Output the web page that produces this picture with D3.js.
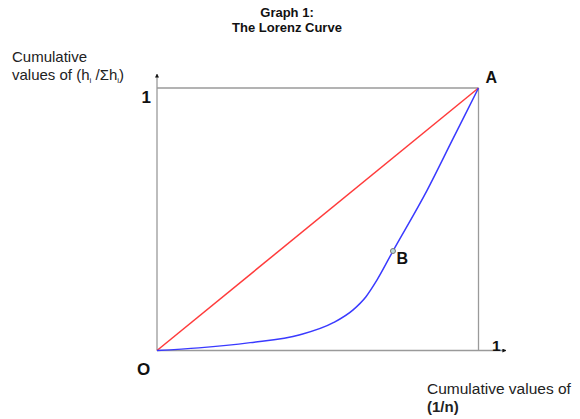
<!DOCTYPE html>
<html>
<head>
<meta charset="utf-8">
<script src="https://cdn.jsdelivr.net/npm/d3@7"></script>
<style>
  html, body { margin: 0; padding: 0; background: #fff; }
  svg { display: block; font-family: "Liberation Sans", Arial, sans-serif; }
</style>
</head>
<body>
<svg id="chart" width="580" height="419"></svg>
<script>
// ---- data ----
const titleLines = ["Graph 1:", "The Lorenz Curve"];
const equalityX = [0, 1];
const equalityY = [0, 1];
const lorenzX = [0, 0.13, 0.29, 0.445, 0.55, 0.61, 0.65, 0.684, 0.734, 0.84, 0.92, 1];
const lorenzY = [0, 0.01, 0.03, 0.06, 0.107, 0.155, 0.205, 0.268, 0.379, 0.61, 0.805, 1];
const pointB = { x: 0.734, y: 0.379 };
const yTickLabels = ["1"];
const xTickLabels = ["1"];

// ---- layout ----
const svg = d3.select("#chart");
const x = d3.scaleLinear().domain([0, 1]).range([157, 478.5]);
const y = d3.scaleLinear().domain([0, 1]).range([350.5, 88]);
const frameColor = "#9a9a9a";

// title
svg.selectAll("text.title").data(titleLines).join("text")
  .attr("class", "title")
  .attr("x", 287).attr("y", (d, i) => 17 + i * 15)
  .attr("text-anchor", "middle")
  .attr("font-size", 13).attr("font-weight", "bold").attr("fill", "#111")
  .text(d => d);

// y axis label
svg.append("text").attr("x", 12).attr("y", 62)
  .attr("font-size", 15).attr("fill", "#222").text("Cumulative");
const yl2 = svg.append("text").attr("x", 12).attr("y", 80)
  .attr("font-size", 15).attr("fill", "#222");
yl2.append("tspan").text("values of (h");
yl2.append("tspan").attr("font-size", 8).attr("dy", 3).text("i");
yl2.append("tspan").attr("dy", -3).text(" /Σh");
yl2.append("tspan").attr("font-size", 8).attr("dy", 3).text("i");
yl2.append("tspan").attr("dy", -3).text(")");

// x axis label
svg.append("text").attr("x", 427).attr("y", 394)
  .attr("font-size", 15.5).attr("fill", "#222").text("Cumulative values of");
svg.append("text").attr("x", 427).attr("y", 411.5)
  .attr("font-size", 15).attr("font-weight", "bold").attr("fill", "#222").text("(1/n)");

// arrow markers
const defs = svg.append("defs");
defs.append("marker").attr("id", "arr")
  .attr("viewBox", "0 0 10 10").attr("refX", 9).attr("refY", 5)
  .attr("markerWidth", 4).attr("markerHeight", 4)
  .attr("markerUnits", "userSpaceOnUse")
  .attr("orient", "auto")
  .append("path").attr("d", "M0,0 L10,5 L0,10 Z").attr("fill", "#111");

// frame lines
const g = svg.append("g").attr("fill", "none").attr("stroke", frameColor).attr("stroke-width", 1.3);
g.append("line").attr("x1", x(0)).attr("y1", y(0)).attr("x2", x(0)).attr("y2", 74)
  .attr("marker-end", "url(#arr)");
g.append("line").attr("x1", x(0)).attr("y1", y(1)).attr("x2", x(1)).attr("y2", y(1));
g.append("line").attr("x1", x(1)).attr("y1", y(1)).attr("x2", x(1)).attr("y2", y(0));
g.append("line").attr("x1", x(0)).attr("y1", y(0)).attr("x2", 506).attr("y2", y(0))
  .attr("marker-end", "url(#arr)");

// equality line
const line = d3.line().x(d => x(d[0])).y(d => y(d[1]));
svg.append("path")
  .datum(d3.zip(equalityX, equalityY))
  .attr("d", line)
  .attr("fill", "none").attr("stroke", "#ff3b3b").attr("stroke-width", 1.5);

// lorenz curve
const curve = d3.line().x(d => x(d[0])).y(d => y(d[1])).curve(d3.curveMonotoneX);
svg.append("path")
  .datum(d3.zip(lorenzX, lorenzY))
  .attr("d", curve)
  .attr("fill", "none").attr("stroke", "#3a3aff").attr("stroke-width", 1.5);

// point B
svg.append("circle").attr("cx", x(pointB.x)).attr("cy", y(pointB.y)).attr("r", 2.5)
  .attr("fill", "#b8d8d8").attr("stroke", "#777").attr("stroke-width", 1);

// labels
const lbl = (t, px, py, fs) => svg.append("text").attr("x", px).attr("y", py)
  .attr("font-size", fs).attr("font-weight", "bold").attr("fill", "#111").text(t);
lbl(yTickLabels[0], 141.5, 102.5, 17);
lbl(xTickLabels[0], 492, 350.5, 15.5);
lbl("A", 485.5, 82.5, 16);
lbl("B", 396.5, 263.5, 16);
lbl("O", 137, 374.5, 17);
</script>
</body>
</html>
